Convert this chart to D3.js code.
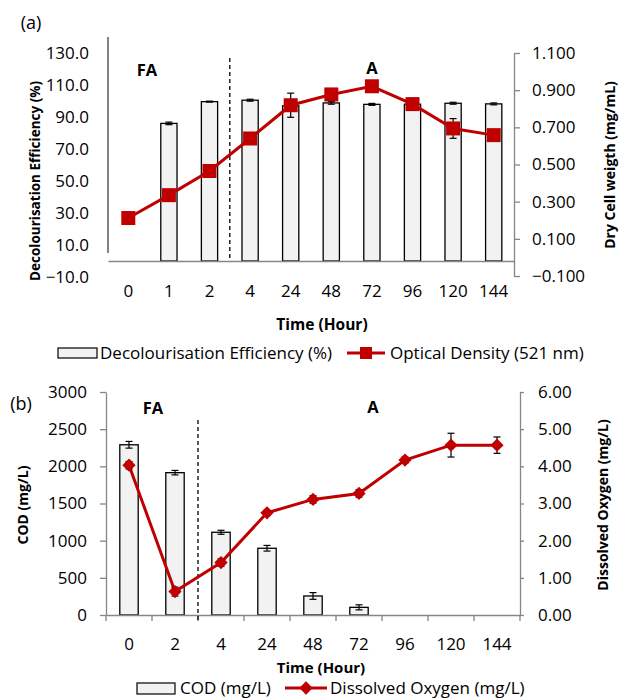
<!DOCTYPE html>
<html>
<head>
<meta charset="utf-8">
<script src="https://cdn.jsdelivr.net/npm/d3@7"></script>
<style>
  body { margin: 0; background: #fff; }
  svg { font-family: "Open Sans", Lato, sans-serif; }
</style>
</head>
<body>
<svg id="chart" width="619" height="698"></svg>
<script>
// panel (a)
const hoursA = ["0", "1", "2", "4", "24", "48", "72", "96", "120", "144"]
const decolEff = [0, 86.0, 99.6, 100.5, 97.0, 98.8, 97.9, 98.0, 98.6, 98.2]
const decolErr = [0, 0.8, 0.3, 0.6, 0.5, 0.8, 0.6, 0.5, 0.6, 0.6]
const opticalDensity = [0.212, 0.335, 0.465, 0.640, 0.819, 0.877, 0.921, 0.825, 0.694, 0.658]
const odErr = [0, 0, 0, 0, 0.065, 0, 0, 0, 0.053, 0]
const ticksDecol = [-10, 10, 30, 50, 70, 90, 110, 130]
const ticksDry = [-0.1, 0.1, 0.3, 0.5, 0.7, 0.9, 1.1]

// panel (b)
const hoursB = ["0", "2", "4", "24", "48", "72", "96", "120", "144"]
const cod = [2290, 1915, 1113, 898, 256, 103, null, null, null]
const codErr = [45, 30, 27, 38, 45, 34, 0, 0, 0]
const dissolvedO2 = [4.03, 0.63, 1.41, 2.75, 3.11, 3.27, 4.17, 4.57, 4.57]
const doErr = [0.1, 0.12, 0.1, 0.06, 0.1, 0.1, 0.08, 0.32, 0.22]
const ticksCod = [0, 500, 1000, 1500, 2000, 2500, 3000]
const ticksDO = [0, 1, 2, 3, 4, 5, 6]

const red = "#c00000"
const grey = "#868686"
const barFill = "#f2f2f2"

const svg = d3.select("#chart")

// error bar helper
const errorBars = (g, data, x, y) => {
  const eb = g.append("g").attr("stroke", "#000").attr("stroke-width", 1.2)
  data.filter(d => d.e > 0).forEach(d => {
    const cx = x(d.cat)
    eb.append("line").attr("x1", cx).attr("x2", cx).attr("y1", y(d.v - d.e)).attr("y2", y(d.v + d.e))
    eb.append("line").attr("x1", cx - 3.5).attr("x2", cx + 3.5).attr("y1", y(d.v - d.e)).attr("y2", y(d.v - d.e))
    eb.append("line").attr("x1", cx - 3.5).attr("x2", cx + 3.5).attr("y1", y(d.v + d.e)).attr("y2", y(d.v + d.e))
  })
}

/* ---------------- panel (a) ---------------- */
const xA = d3.scaleBand().domain(hoursA).range([108, 514]).paddingInner(0.6).paddingOuter(0.3)
const yA = d3.scaleLinear().domain([-10, 130]).range([277, 53])
const yA2 = d3.scaleLinear().domain([-0.1, 1.1]).range([276, 53])
const cA = d => xA(d) + xA.bandwidth() / 2

const gA = svg.append("g")

const barsA = hoursA.map((h, i) => ({ cat: h, v: decolEff[i], e: decolErr[i] }))
const lineA = hoursA.map((h, i) => ({ cat: h, v: opticalDensity[i], e: odErr[i] }))

gA.selectAll(".barA")
  .data(barsA)
  .join("rect")
  .attr("class", "barA")
  .attr("x", d => xA(d.cat))
  .attr("y", d => yA(d.v))
  .attr("width", xA.bandwidth())
  .attr("height", d => yA(0) - yA(d.v))
  .attr("fill", barFill)
  .attr("stroke", "#000")
  .attr("stroke-width", 1.3)

errorBars(gA, barsA, cA, yA)

// x axis
const xAxisA = gA.append("g")
  .attr("transform", `translate(0,${yA(0)})`)
  .call(d3.axisBottom(xA).tickSize(0).tickPadding(24).tickSizeOuter(0))
xAxisA.select(".domain").attr("stroke", grey).attr("stroke-width", 1.3)

// left axis
const yAxisA = gA.append("g")
  .attr("transform", "translate(108,0)")
  .call(d3.axisLeft(yA).tickValues(ticksDecol).tickFormat(d3.format(".1f")).tickSize(0).tickPadding(19))
yAxisA.select(".domain").remove()
gA.append("line").attr("x1", 108).attr("x2", 108).attr("y1", 37).attr("y2", 253)
  .attr("stroke", "#404040").attr("stroke-width", 1.3)

// right axis
const yAxisA2 = gA.append("g")
  .attr("transform", "translate(514,0)")
  .call(d3.axisRight(yA2).tickValues(ticksDry).tickFormat(d3.format(".3f")).tickSize(6).tickPadding(12).tickSizeOuter(0))
yAxisA2.selectAll(".domain, .tick line").attr("stroke", grey).attr("stroke-width", 1.3)

// phase divider
gA.append("line")
  .attr("x1", (cA("2") + cA("4")) / 2).attr("x2", (cA("2") + cA("4")) / 2)
  .attr("y1", 58).attr("y2", yA(0))
  .attr("stroke", "#000").attr("stroke-width", 1.3).attr("stroke-dasharray", "4,3")

// OD line
gA.append("path")
  .datum(lineA)
  .attr("fill", "none")
  .attr("stroke", red)
  .attr("stroke-width", 3)
  .attr("d", d3.line().x(d => cA(d.cat)).y(d => yA2(d.v)))

errorBars(gA, lineA, cA, yA2)

gA.selectAll(".sq")
  .data(lineA)
  .join("rect")
  .attr("class", "sq")
  .attr("x", d => cA(d.cat) - 7)
  .attr("y", d => yA2(d.v) - 7)
  .attr("width", 14)
  .attr("height", 14)
  .attr("fill", red)

/* ---------------- panel (b) ---------------- */
const xB = d3.scaleBand().domain(hoursB).range([106, 520]).paddingInner(0.6).paddingOuter(0.3)
const yB = d3.scaleLinear().domain([0, 3000]).range([615, 392])
const yB2 = d3.scaleLinear().domain([0, 6]).range([615, 392])
const cB = d => xB(d) + xB.bandwidth() / 2

const gB = svg.append("g")

const barsB = hoursB.map((h, i) => ({ cat: h, v: cod[i], e: codErr[i] })).filter(d => d.v !== null)
const lineB = hoursB.map((h, i) => ({ cat: h, v: dissolvedO2[i], e: doErr[i] }))

gB.selectAll(".barB")
  .data(barsB)
  .join("rect")
  .attr("class", "barB")
  .attr("x", d => xB(d.cat))
  .attr("y", d => yB(d.v))
  .attr("width", xB.bandwidth())
  .attr("height", d => yB(0) - yB(d.v))
  .attr("fill", barFill)
  .attr("stroke", "#000")
  .attr("stroke-width", 1.3)

errorBars(gB, barsB, cB, yB)

// x axis
const xAxisB = gB.append("g")
  .attr("transform", `translate(0,${yB(0)})`)
  .call(d3.axisBottom(xB).tickSize(0).tickPadding(23).tickSizeOuter(0))
xAxisB.select(".domain").attr("stroke", grey).attr("stroke-width", 1.3)
gB.selectAll(".sep")
  .data(d3.range(hoursB.length + 1))
  .join("line")
  .attr("class", "sep")
  .attr("x1", i => 106 + i * xB.step()).attr("x2", i => 106 + i * xB.step())
  .attr("y1", yB(0)).attr("y2", yB(0) + 6)
  .attr("stroke", grey).attr("stroke-width", 1.3)

// left axis
const yAxisB = gB.append("g")
  .attr("transform", "translate(106,0)")
  .call(d3.axisLeft(yB).tickValues(ticksCod).tickFormat(d3.format("d")).tickSize(6).tickPadding(13).tickSizeOuter(0))
yAxisB.selectAll(".domain, .tick line").attr("stroke", grey).attr("stroke-width", 1.3)

// right axis
const yAxisB2 = gB.append("g")
  .attr("transform", "translate(520,0)")
  .call(d3.axisRight(yB2).tickValues(ticksDO).tickFormat(d3.format(".2f")).tickSize(4).tickPadding(14).tickSizeOuter(0))
yAxisB2.selectAll(".domain, .tick line").attr("stroke", grey).attr("stroke-width", 1.3)

// phase divider
gB.append("line")
  .attr("x1", (cB("2") + cB("4")) / 2).attr("x2", (cB("2") + cB("4")) / 2)
  .attr("y1", 420).attr("y2", yB(0) + 7)
  .attr("stroke", "#000").attr("stroke-width", 1.3).attr("stroke-dasharray", "4,3")

// DO line
gB.append("path")
  .datum(lineB)
  .attr("fill", "none")
  .attr("stroke", red)
  .attr("stroke-width", 3)
  .attr("d", d3.line().x(d => cB(d.cat)).y(d => yB2(d.v)))

errorBars(gB, lineB, cB, yB2)

const diamond = d3.symbol().type(d3.symbolSquare).size(88)
gB.selectAll(".dm")
  .data(lineB)
  .join("path")
  .attr("class", "dm")
  .attr("transform", d => `translate(${cB(d.cat)},${yB2(d.v)}) rotate(45)`)
  .attr("d", diamond)
  .attr("fill", red)

/* ---------------- text ---------------- */
svg.selectAll(".tick text").attr("font-size", 17).attr("fill", "#000").attr("font-family", "'Open Sans', sans-serif")

const txt = (x, y, s, opts = {}) => svg.append("text")
  .attr("x", x).attr("y", y).attr("dy", "0.35em")
  .attr("text-anchor", opts.anchor || "middle")
  .attr("font-size", opts.size || 15.5)
  .attr("font-weight", opts.bold ? "bold" : "normal")
  .attr("transform", opts.rot ? `rotate(-90,${x},${y})` : null)
  .text(s)

txt(31, 23, "(a)", { size: 18 })
txt(147, 70, "FA", { bold: true, size: 16.5 })
txt(372, 68, "A", { bold: true, size: 16.5 })
txt(35, 181, "Decolourisation Efficiency (%)", { bold: true, rot: true, size: 13.5 })
txt(610, 165, "Dry Cell weigth (mg/mL)", { bold: true, rot: true, size: 14 })
txt(322, 325, "Time (Hour)", { bold: true })

txt(21, 404, "(b)", { size: 18 })
txt(153, 408, "FA", { bold: true, size: 16.5 })
txt(373, 407, "A", { bold: true, size: 16.5 })
txt(23, 505, "COD (mg/L)", { bold: true, rot: true, size: 14 })
txt(603, 505, "Dissolved Oxygen (mg/L)", { bold: true, rot: true, size: 14 })
txt(321, 668, "Time (Hour)", { bold: true, size: 15 })

// legends
svg.append("rect").attr("x", 58).attr("y", 348).attr("width", 39).attr("height", 10)
  .attr("fill", barFill).attr("stroke", "#000").attr("stroke-width", 1.2)
txt(100, 353, "Decolourisation Efficiency (%)", { anchor: "start", size: 17 })
svg.append("line").attr("x1", 347).attr("x2", 385).attr("y1", 353).attr("y2", 353)
  .attr("stroke", red).attr("stroke-width", 3)
svg.append("rect").attr("x", 360).attr("y", 347).attr("width", 12).attr("height", 12).attr("fill", red)
txt(390, 353, "Optical Density (521 nm)", { anchor: "start", size: 17 })

svg.append("rect").attr("x", 137).attr("y", 683).attr("width", 38).attr("height", 11)
  .attr("fill", barFill).attr("stroke", "#000").attr("stroke-width", 1.2)
txt(180, 688, "COD (mg/L)", { anchor: "start", size: 17 })
svg.append("line").attr("x1", 285).attr("x2", 327).attr("y1", 688).attr("y2", 688)
  .attr("stroke", red).attr("stroke-width", 3)
svg.append("path").attr("transform", "translate(306,688) rotate(45)").attr("d", diamond).attr("fill", red)
txt(330, 688, "Dissolved Oxygen (mg/L)", { anchor: "start", size: 17 })
</script>
</body>
</html>
